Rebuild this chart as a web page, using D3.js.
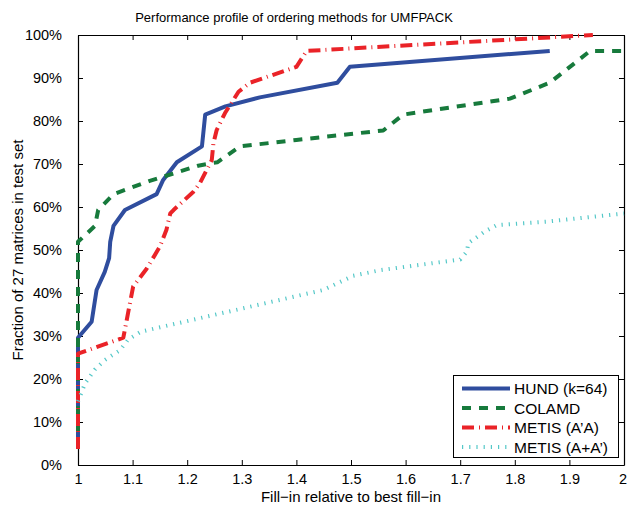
<!DOCTYPE html>
<html><head><meta charset="utf-8">
<script src="https://cdn.jsdelivr.net/npm/d3@7"></script>
<style>body{margin:0;background:#fff;} svg{display:block;} text{font-family:"Liberation Sans",Arial,Helvetica,sans-serif;fill:#000;}</style>
</head><body>
<script>
const title = "Performance profile of ordering methods for UMFPACK";
const xLabel = "Fill\u2212in relative to best fill\u2212in";
const yLabel = "Fraction of 27 matrices in test set";
const xTicks = [1,1.1,1.2,1.3,1.4,1.5,1.6,1.7,1.8,1.9,2];
const xTickLabels = ["1","1.1","1.2","1.3","1.4","1.5","1.6","1.7","1.8","1.9","2"];
const yTicks = [0,10,20,30,40,50,60,70,80,90,100];
const yTickLabels = ["0%","10%","20%","30%","40%","50%","60%","70%","80%","90%","100%"];
const seriesNames = ["HUND (k=64)","COLAMD","METIS (A\u2019A)","METIS (A+A\u2019)"];

const hund = [[1,3.7],[1,29.6],[1.025,33.3],[1.034,40.7],[1.049,44.9],[1.057,48.1],[1.059,51.9],[1.065,55.6],[1.086,59.3],[1.144,63.0],[1.156,66.3],[1.181,70.4],[1.227,74.1],[1.233,81.5],[1.27,83.4],[1.333,85.5],[1.475,88.9],[1.498,92.6],[1.864,96.3]];
const colamd = [[1,3.7],[1,51.9],[1.031,55.6],[1.037,59.3],[1.065,63.0],[1.13,66.0],[1.22,69.6],[1.255,70.4],[1.297,74.1],[1.40,75.6],[1.559,77.8],[1.596,81.5],[1.791,85.2],[1.864,88.9],[1.938,96.3],[2.0,96.3]];
const metisAtA = [[1,3.7],[1,25.9],[1.083,29.6],[1.101,41.5],[1.126,45.7],[1.15,50.8],[1.162,54.7],[1.169,58.5],[1.175,59.3],[1.211,63.5],[1.223,65.5],[1.245,70.9],[1.248,74.8],[1.254,77.9],[1.269,81.8],[1.294,86.8],[1.315,88.9],[1.40,92.6],[1.419,96.3],[1.943,100]];
const metisApAt = [[1,14.8],[1.013,19.0],[1.031,22.2],[1.049,24.4],[1.077,26.7],[1.092,29.2],[1.115,31.0],[1.449,40.7],[1.504,44.0],[1.553,45.3],[1.70,47.8],[1.712,49.6],[1.715,51.6],[1.745,54.3],[1.767,55.8],[1.858,56.6],[2.0,58.5]];

const W = 627, H = 508;
const m = {left:78, right:3, top:35, bottom:43};
const svg = d3.select("body").append("svg").attr("width",W).attr("height",H);
const x = d3.scaleLinear().domain([1,2]).range([m.left, W-m.right]);
const y = d3.scaleLinear().domain([0,100]).range([H-m.bottom, m.top]);

const styles = [
  {color:"#2f4d9e", dash:null, width:4},
  {color:"#177a3c", dash:"9,8", width:4},
  {color:"#ea2328", dash:"12,5,1,5", width:4},
  {color:"#55c8c8", dash:"1.2,6", width:4}
];
const data = [hund, colamd, metisAtA, metisApAt];

const fmtX = (d,i)=>xTickLabels[i];
const fmtY = (d,i)=>yTickLabels[i];
const axB = svg.append("g").attr("transform",`translate(0,${y(0)})`)
  .call(d3.axisBottom(x).tickValues(xTicks).tickFormat(fmtX).tickSizeInner(-5).tickSizeOuter(0).tickPadding(9));
const axT = svg.append("g").attr("transform",`translate(0,${y(100)})`)
  .call(d3.axisTop(x).tickValues(xTicks).tickFormat("").tickSizeInner(-5).tickSizeOuter(0));
const axL = svg.append("g").attr("transform",`translate(${x(1)},0)`)
  .call(d3.axisLeft(y).tickValues(yTicks).tickFormat(fmtY).tickSizeInner(-5).tickSizeOuter(0).tickPadding(16));
const axR = svg.append("g").attr("transform",`translate(${x(2)},0)`)
  .call(d3.axisRight(y).tickValues(yTicks).tickFormat("").tickSizeInner(-5).tickSizeOuter(0));
[axB,axT,axL,axR].forEach(g=>{
  g.select(".domain").attr("stroke","#000").attr("stroke-width",1.2);
  g.selectAll(".tick line").attr("stroke","#000").attr("stroke-width",1);
  g.selectAll(".tick text").attr("font-size",14.5).attr("font-family","Liberation Sans,Arial,sans-serif").attr("fill","#000");
});
// keep the last x label inside the window
axB.selectAll(".tick text").filter((d,i)=>i===xTicks.length-1).attr("text-anchor","end").attr("dx",2.5);

const line = d3.line().x(d=>x(d[0])).y(d=>y(d[1]));
data.forEach((d,i)=>{
  const s = styles[i];
  const p = svg.append("path").datum(d).attr("d",line).attr("fill","none")
    .attr("stroke",s.color).attr("stroke-width",s.width).attr("stroke-linejoin","round").attr("stroke-linecap","butt");
  if(s.dash) p.attr("stroke-dasharray",s.dash);
});

svg.append("text").attr("x",294).attr("y",22).attr("text-anchor","middle").attr("font-size",13).text(title);
svg.append("text").attr("x",351).attr("y",502).attr("text-anchor","middle").attr("font-size",15).text(xLabel);
svg.append("text").attr("transform",`translate(23,${(y(0)+y(100))/2}) rotate(-90)`).attr("text-anchor","middle").attr("font-size",15).text(yLabel);

const lg = svg.append("g");
lg.append("rect").attr("x",453.5).attr("y",375.5).attr("width",165).attr("height",82)
  .attr("fill","#fff").attr("stroke","#000").attr("stroke-width",1);
seriesNames.forEach((n,i)=>{
  const cy = 388.5 + i*19.5;
  const s = styles[i];
  const l = lg.append("line").attr("x1",462).attr("x2",510).attr("y1",cy).attr("y2",cy)
    .attr("stroke",s.color).attr("stroke-width",s.width);
  if(s.dash) l.attr("stroke-dasharray",s.dash);
  lg.append("text").attr("x",514).attr("y",cy+5.5).attr("font-size",15.5).text(n);
});
</script>
</body></html>
